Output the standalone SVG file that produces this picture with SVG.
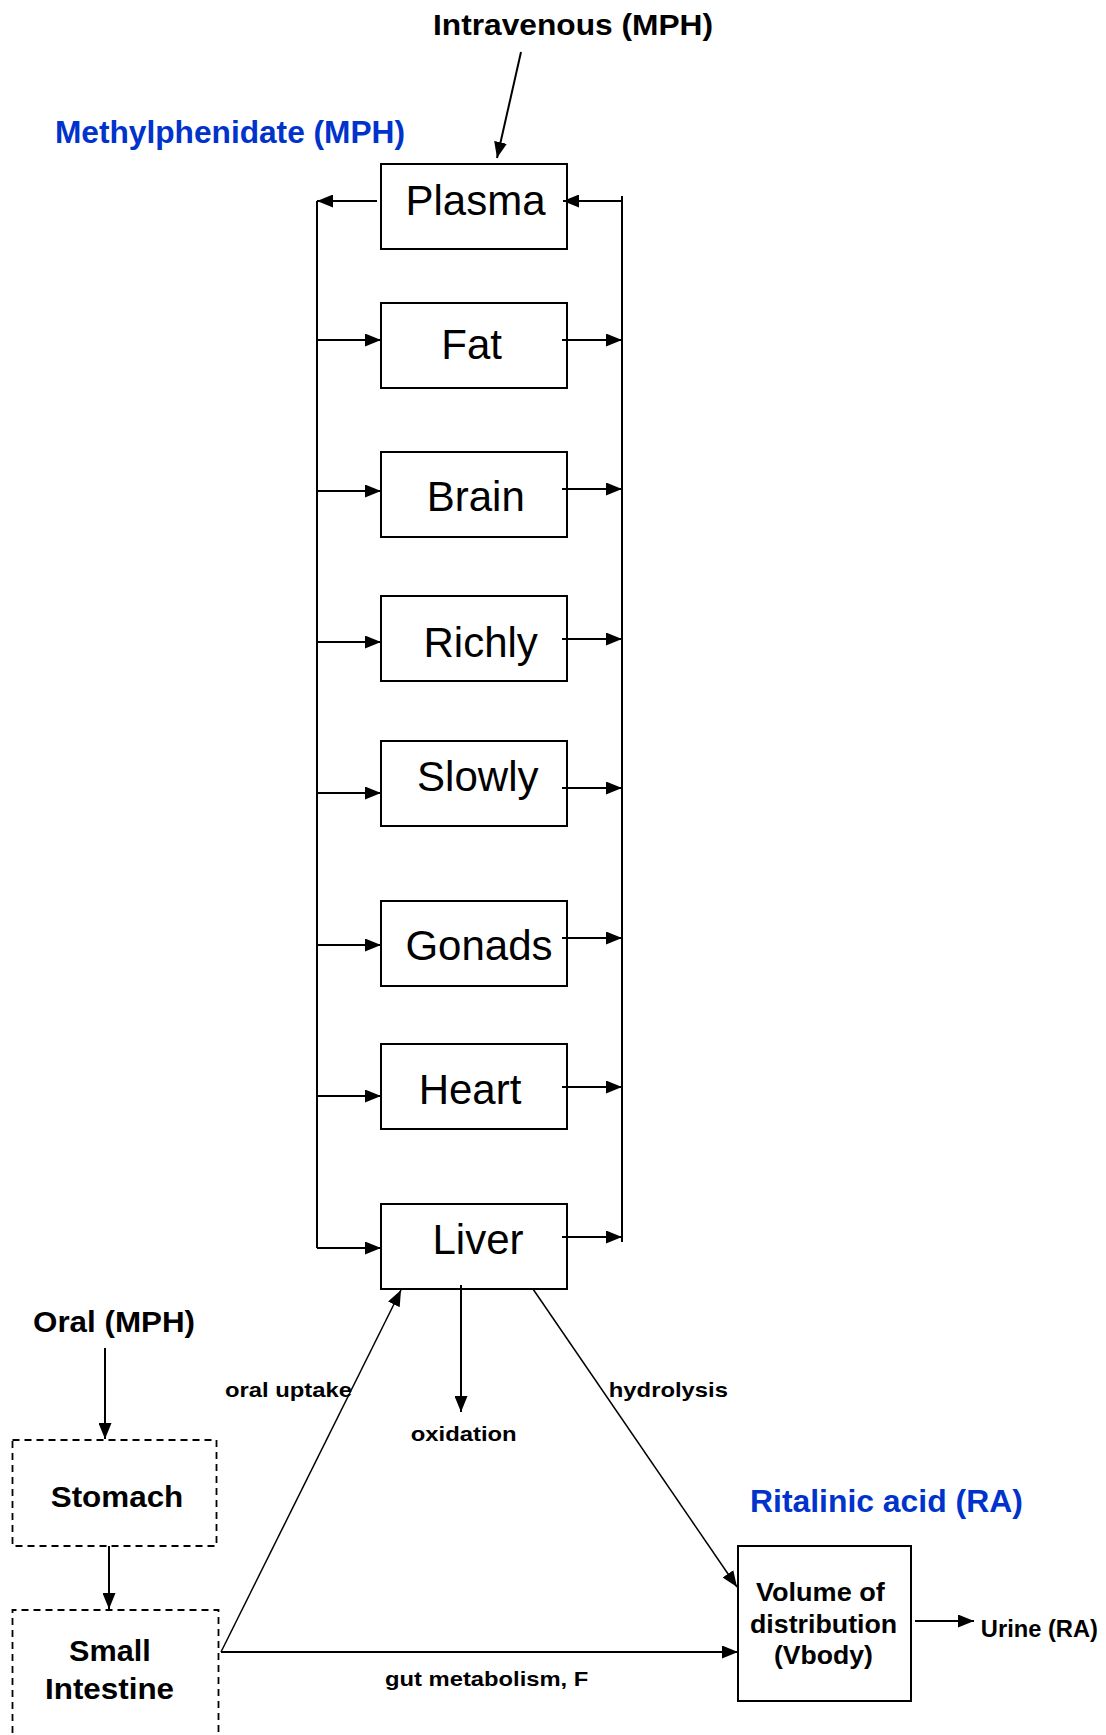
<svg xmlns="http://www.w3.org/2000/svg" width="1106" height="1735" viewBox="0 0 1106 1735">
<style>
.box{fill:#fff;stroke:#000;stroke-width:2}
.dbox{fill:none;stroke:#000;stroke-width:1.8;stroke-dasharray:7,5}
.org{font-family:"Liberation Sans",Arial,sans-serif;font-size:42px;fill:#000;text-anchor:middle}
.lbl{font-family:"Liberation Sans",Arial,sans-serif;font-weight:bold;fill:#000}
.blue{fill:#0033cc}
.c{stroke:#000;stroke-width:2;fill:none;marker-end:url(#ah)}
.cl{stroke:#000;stroke-width:2;fill:none}
.cd{stroke:#000;stroke-width:1.5;fill:none;marker-end:url(#ah)}
</style>
<defs>
<marker id="ah" markerUnits="userSpaceOnUse" markerWidth="16" markerHeight="13" refX="16" refY="6.5" orient="auto">
<path d="M0,0 L16,6.5 L0,13 z" fill="#000"/>
</marker>
</defs>
<rect width="1106" height="1735" fill="#fff"/>

<g id="plasma"><rect class="box" x="381" y="164" width="186" height="85"/><text class="org" x="475.5" y="215">Plasma</text></g>
<g id="fat"><rect class="box" x="381" y="303" width="186" height="85"/><text class="org" x="471.7" y="359">Fat</text></g>
<g id="brain"><rect class="box" x="381" y="452" width="186" height="85"/><text class="org" x="475.8" y="511">Brain</text></g>
<g id="richly"><rect class="box" x="381" y="596" width="186" height="85"/><text class="org" x="480.7" y="657">Richly</text></g>
<g id="slowly"><rect class="box" x="381" y="741" width="186" height="85"/><text class="org" x="477.8" y="791">Slowly</text></g>
<g id="gonads"><rect class="box" x="381" y="901" width="186" height="85"/><text class="org" x="479" y="960">Gonads</text></g>
<g id="heart"><rect class="box" x="381" y="1044" width="186" height="85"/><text class="org" x="470" y="1104">Heart</text></g>
<g id="liver"><rect class="box" x="381" y="1204" width="186" height="85"/><text class="org" x="478" y="1254">Liver</text></g>

<g id="stomach"><rect class="dbox" x="12.5" y="1440" width="204" height="106"/><text class="lbl" x="50.7" y="1507" font-size="29" textLength="132.6" lengthAdjust="spacingAndGlyphs">Stomach</text></g>
<g id="small-intestine"><path class="dbox" d="M12.5,1745 V1610 H218.5 V1745"/><text class="lbl" x="69" y="1661" font-size="29" textLength="81.7" lengthAdjust="spacingAndGlyphs">Small</text><text class="lbl" x="45" y="1699" font-size="29" textLength="129" lengthAdjust="spacingAndGlyphs">Intestine</text></g>
<g id="volume"><rect class="box" x="738" y="1546" width="173" height="155"/>
<text class="lbl" x="756" y="1601" font-size="26" textLength="128.8" lengthAdjust="spacingAndGlyphs">Volume of</text>
<text class="lbl" x="750" y="1633" font-size="26" textLength="147.2" lengthAdjust="spacingAndGlyphs">distribution</text>
<text class="lbl" x="774" y="1664" font-size="26" textLength="98.8" lengthAdjust="spacingAndGlyphs">(Vbody)</text></g>

<g id="connectors">
<line class="cl" x1="317" y1="201" x2="317" y2="1248"/>
<line class="cl" x1="622" y1="196" x2="622" y2="1242"/>
<line class="c" x1="377" y1="201" x2="317" y2="201"/>
<line class="c" x1="622" y1="201" x2="563" y2="201"/>
<line class="c" x1="317" y1="340" x2="381" y2="340"/>
<line class="c" x1="317" y1="491" x2="381" y2="491"/>
<line class="c" x1="317" y1="642" x2="381" y2="642"/>
<line class="c" x1="317" y1="793" x2="381" y2="793"/>
<line class="c" x1="317" y1="945" x2="381" y2="945"/>
<line class="c" x1="317" y1="1096" x2="381" y2="1096"/>
<line class="c" x1="317" y1="1248" x2="381" y2="1248"/>
<line class="c" x1="562" y1="340" x2="622" y2="340"/>
<line class="c" x1="562" y1="489" x2="622" y2="489"/>
<line class="c" x1="562" y1="639" x2="622" y2="639"/>
<line class="c" x1="562" y1="788" x2="622" y2="788"/>
<line class="c" x1="562" y1="938" x2="622" y2="938"/>
<line class="c" x1="562" y1="1087" x2="622" y2="1087"/>
<line class="c" x1="562" y1="1237" x2="622" y2="1237"/>
<line class="c" x1="521" y1="52" x2="497" y2="158"/>
<line class="c" x1="461" y1="1285" x2="461" y2="1412"/>
<line class="cd" x1="221" y1="1652" x2="401" y2="1290"/>
<line class="c" x1="221" y1="1652" x2="738" y2="1652"/>
<line class="cd" x1="533" y1="1289" x2="737" y2="1587"/>
<line class="c" x1="105" y1="1348" x2="105" y2="1439"/>
<line class="c" x1="109" y1="1546" x2="109" y2="1609"/>
<line class="c" x1="915" y1="1621" x2="974" y2="1621"/>
</g>

<g id="labels">
<text class="lbl" x="433" y="35" font-size="30" textLength="280" lengthAdjust="spacingAndGlyphs">Intravenous (MPH)</text>
<text class="lbl blue" x="55" y="143" font-size="31" textLength="350" lengthAdjust="spacingAndGlyphs">Methylphenidate (MPH)</text>
<text class="lbl" x="33" y="1332" font-size="29" textLength="162" lengthAdjust="spacingAndGlyphs">Oral (MPH)</text>
<text class="lbl" x="225" y="1397" font-size="21" textLength="127" lengthAdjust="spacingAndGlyphs">oral uptake</text>
<text class="lbl" x="410.7" y="1441" font-size="21" textLength="106" lengthAdjust="spacingAndGlyphs">oxidation</text>
<text class="lbl" x="608.8" y="1397" font-size="21" textLength="119.2" lengthAdjust="spacingAndGlyphs">hydrolysis</text>
<text class="lbl" x="385" y="1686" font-size="21" textLength="203.3" lengthAdjust="spacingAndGlyphs">gut metabolism, F</text>
<text class="lbl blue" x="750" y="1512" font-size="31" textLength="272.8" lengthAdjust="spacingAndGlyphs">Ritalinic acid (RA)</text>
<text class="lbl" x="980.8" y="1637" font-size="23" textLength="117.2" lengthAdjust="spacingAndGlyphs">Urine (RA)</text>
</g>
</svg>
